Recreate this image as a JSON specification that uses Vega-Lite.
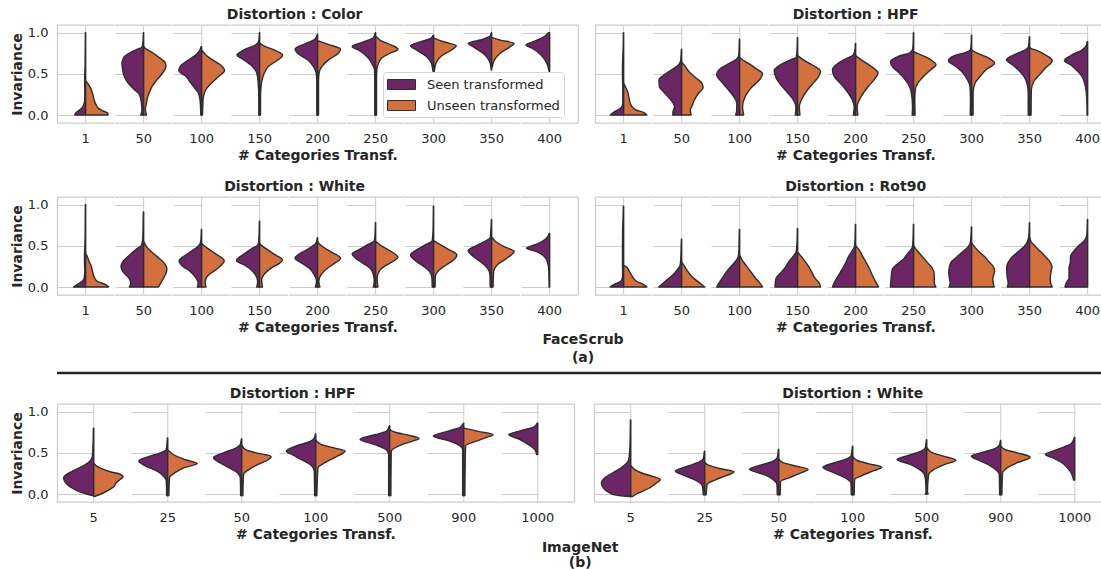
{
  "$schema": "https://vega.github.io/schema/vega-lite/v6.json",
  "padding": {"left": 10, "top": 8, "right": 5, "bottom": 5},
  "background": "white",
  "config": {
    "font": "DejaVu Sans",
    "view": {"stroke": null},
    "axis": {"labelFont": "DejaVu Sans", "labelFontSize": 13, "labelColor": "#262626", "titleFont": "DejaVu Sans", "titleFontSize": 14, "titleFontWeight": "bold", "titleColor": "#262626", "domainColor": "#cccccc", "domainWidth": 1.25, "gridColor": "#cccccc", "gridWidth": 1, "ticks": false, "labelOverlap": false},
    "header": {"labelFont": "DejaVu Sans", "labelFontSize": 13, "labelColor": "#262626", "titleFont": "DejaVu Sans", "titleFontSize": 14, "titleFontWeight": "bold", "titleColor": "#262626", "labelOrient": "bottom", "titleOrient": "bottom", "labelPadding": 10, "titlePadding": -7},
    "title": {"font": "DejaVu Sans", "fontSize": 14, "fontWeight": "bold", "color": "#262626", "offset": 2, "anchor": "middle"},
    "legend": {"orient": "none", "legendX": 326, "legendY": 47, "fillColor": "white", "strokeColor": "#d5d5d5", "cornerRadius": 3, "padding": 4, "labelFont": "DejaVu Sans", "labelFontSize": 13, "labelColor": "#262626", "symbolType": "M-1.75,-0.62L1.75,-0.62L1.75,0.62L-1.75,0.62Z", "symbolSize": 256, "symbolOffset": 6, "symbolStrokeColor": "#2d2d2d", "symbolStrokeWidth": 1, "symbolOpacity": 1, "rowPadding": 5, "labelOffset": 17}
  },
  "datasets": {
    "v": [
      {"p":"Color","cat":1,"g":"Seen transformed","y":[0,0.03,0.07,0.12,0.2,0.3,0.45,0.6,0.8,1.0],"w":[0.38,0.33,0.18,0.07,0.03,0.03,0.035,0.02,0.015,0.01]},
      {"p":"Color","cat":1,"g":"Unseen transformed","y":[0,0.02,0.05,0.08,0.12,0.18,0.25,0.32,0.38,0.41],"w":[0.78,0.78,0.6,0.45,0.37,0.3,0.25,0.18,0.08,0.01]},
      {"p":"Color","cat":50,"g":"Seen transformed","y":[0,0.06,0.15,0.25,0.31,0.37,0.43,0.49,0.55,0.63,0.71,0.76,0.79,0.83,0.91,1.0],"w":[0.1,0.06,0.08,0.15,0.33,0.5,0.62,0.7,0.73,0.76,0.67,0.45,0.27,0.05,0.02,0.01]},
      {"p":"Color","cat":50,"g":"Unseen transformed","y":[0,0.06,0.15,0.23,0.29,0.35,0.43,0.51,0.59,0.63,0.71,0.77,0.81,0.83],"w":[0.1,0.06,0.1,0.15,0.22,0.3,0.47,0.66,0.78,0.76,0.5,0.25,0.05,0.01]},
      {"p":"Color","cat":100,"g":"Seen transformed","y":[0,0.1,0.19,0.27,0.31,0.39,0.47,0.54,0.61,0.67,0.73,0.79,0.83],"w":[0.03,0.04,0.06,0.12,0.2,0.38,0.55,0.8,0.7,0.45,0.2,0.06,0.02]},
      {"p":"Color","cat":100,"g":"Unseen transformed","y":[0,0.1,0.19,0.27,0.31,0.39,0.47,0.54,0.61,0.67,0.73,0.78],"w":[0.03,0.04,0.05,0.1,0.15,0.35,0.6,0.8,0.65,0.38,0.15,0.02]},
      {"p":"Color","cat":150,"g":"Seen transformed","y":[0,0.2,0.39,0.51,0.59,0.67,0.73,0.79,0.85,0.89,0.95,1.0],"w":[0.03,0.03,0.05,0.1,0.25,0.55,0.79,0.55,0.15,0.04,0.015,0.01]},
      {"p":"Color","cat":150,"g":"Unseen transformed","y":[0,0.2,0.35,0.47,0.59,0.67,0.73,0.79,0.84,0.87],"w":[0.03,0.03,0.05,0.12,0.3,0.65,0.8,0.5,0.15,0.02]},
      {"p":"Color","cat":200,"g":"Seen transformed","y":[0,0.2,0.4,0.51,0.59,0.67,0.75,0.8,0.87,0.92,0.98],"w":[0.03,0.03,0.03,0.05,0.15,0.35,0.7,0.79,0.4,0.1,0.01]},
      {"p":"Color","cat":200,"g":"Unseen transformed","y":[0,0.2,0.4,0.51,0.59,0.67,0.75,0.8,0.86,0.9],"w":[0.03,0.03,0.03,0.05,0.15,0.38,0.72,0.8,0.35,0.02]},
      {"p":"Color","cat":250,"g":"Seen transformed","y":[0,0.2,0.4,0.55,0.59,0.69,0.79,0.83,0.89,0.94,1.0],"w":[0.03,0.03,0.03,0.04,0.08,0.25,0.6,0.82,0.4,0.08,0.01]},
      {"p":"Color","cat":250,"g":"Unseen transformed","y":[0,0.2,0.4,0.55,0.59,0.69,0.75,0.8,0.85,0.9,0.95],"w":[0.03,0.03,0.03,0.04,0.06,0.2,0.5,0.78,0.55,0.2,0.02]},
      {"p":"Color","cat":300,"g":"Seen transformed","y":[0.53,0.55,0.63,0.71,0.79,0.84,0.89,0.93,0.97],"w":[0.02,0.03,0.08,0.25,0.6,0.81,0.45,0.1,0.02]},
      {"p":"Color","cat":300,"g":"Unseen transformed","y":[0.53,0.55,0.63,0.71,0.79,0.84,0.89,0.93],"w":[0.02,0.03,0.08,0.25,0.62,0.79,0.35,0.02]},
      {"p":"Color","cat":350,"g":"Seen transformed","y":[0.55,0.57,0.67,0.75,0.83,0.87,0.92,0.96,1.0],"w":[0.02,0.02,0.1,0.3,0.65,0.82,0.3,0.05,0.01]},
      {"p":"Color","cat":350,"g":"Unseen transformed","y":[0.58,0.67,0.75,0.83,0.87,0.91,0.94],"w":[0.02,0.1,0.3,0.65,0.79,0.3,0.02]},
      {"p":"Color","cat":400,"g":"Seen transformed","y":[0.53,0.63,0.73,0.81,0.85,0.9,0.95,1.0],"w":[0.02,0.1,0.3,0.6,0.83,0.5,0.2,0.04]},

      {"p":"HPF","cat":1,"g":"Seen transformed","y":[0,0.044,0.085,0.14,0.3,0.5,0.6,0.7,0.85,1.0],"w":[0.47,0.3,0.1,0.03,0.03,0.04,0.04,0.03,0.015,0.01]},
      {"p":"HPF","cat":1,"g":"Unseen transformed","y":[0,0.03,0.065,0.125,0.185,0.27,0.33,0.38],"w":[0.81,0.7,0.4,0.25,0.2,0.15,0.08,0.01]},
      {"p":"HPF","cat":50,"g":"Seen transformed","y":[0,0.044,0.1,0.185,0.27,0.35,0.43,0.49,0.55,0.61,0.67,0.73,0.8],"w":[0.31,0.3,0.25,0.38,0.6,0.78,0.79,0.6,0.35,0.1,0.03,0.02,0.01]},
      {"p":"HPF","cat":50,"g":"Unseen transformed","y":[0,0.065,0.1,0.185,0.27,0.33,0.39,0.45,0.53,0.61,0.64],"w":[0.33,0.3,0.35,0.45,0.6,0.75,0.7,0.5,0.25,0.08,0.01]},
      {"p":"HPF","cat":100,"g":"Seen transformed","y":[0,0.065,0.145,0.23,0.31,0.39,0.49,0.57,0.63,0.68,0.73,0.8,0.92],"w":[0.14,0.1,0.1,0.22,0.4,0.6,0.8,0.65,0.35,0.1,0.03,0.02,0.01]},
      {"p":"HPF","cat":100,"g":"Unseen transformed","y":[0,0.1,0.23,0.33,0.43,0.5,0.57,0.63,0.68,0.7],"w":[0.14,0.1,0.2,0.4,0.7,0.8,0.55,0.3,0.06,0.01]},
      {"p":"HPF","cat":150,"g":"Seen transformed","y":[0,0.1,0.185,0.27,0.35,0.45,0.54,0.61,0.67,0.7,0.8,0.94],"w":[0.08,0.06,0.15,0.35,0.55,0.75,0.82,0.6,0.25,0.05,0.02,0.01]},
      {"p":"HPF","cat":150,"g":"Unseen transformed","y":[0,0.1,0.23,0.35,0.45,0.53,0.61,0.67,0.71,0.72],"w":[0.08,0.06,0.2,0.45,0.7,0.8,0.5,0.2,0.04,0.01]},
      {"p":"HPF","cat":200,"g":"Seen transformed","y":[0,0.1,0.185,0.31,0.39,0.47,0.55,0.63,0.69,0.73,0.8,0.87],"w":[0.08,0.05,0.12,0.35,0.55,0.75,0.81,0.6,0.3,0.08,0.02,0.01]},
      {"p":"HPF","cat":200,"g":"Unseen transformed","y":[0,0.1,0.23,0.35,0.43,0.51,0.59,0.67,0.71,0.72],"w":[0.08,0.05,0.2,0.45,0.65,0.78,0.55,0.2,0.04,0.01]},
      {"p":"HPF","cat":250,"g":"Seen transformed","y":[0,0.1,0.27,0.35,0.43,0.51,0.59,0.65,0.71,0.76,0.81,0.9,1.0],"w":[0.05,0.04,0.08,0.15,0.3,0.5,0.75,0.81,0.55,0.12,0.03,0.015,0.01]},
      {"p":"HPF","cat":250,"g":"Unseen transformed","y":[0,0.19,0.31,0.39,0.47,0.55,0.61,0.67,0.73,0.76,0.77],"w":[0.05,0.04,0.06,0.15,0.35,0.6,0.78,0.6,0.25,0.05,0.01]},
      {"p":"HPF","cat":300,"g":"Seen transformed","y":[0,0.19,0.35,0.43,0.51,0.59,0.66,0.72,0.76,0.79,0.88,0.97],"w":[0.05,0.04,0.06,0.15,0.3,0.55,0.81,0.6,0.2,0.04,0.015,0.01]},
      {"p":"HPF","cat":300,"g":"Unseen transformed","y":[0,0.27,0.39,0.47,0.55,0.63,0.69,0.75,0.78,0.79],"w":[0.05,0.05,0.12,0.3,0.5,0.8,0.6,0.2,0.04,0.01]},
      {"p":"HPF","cat":350,"g":"Seen transformed","y":[0,0.27,0.39,0.47,0.55,0.61,0.67,0.73,0.79,0.83,0.95],"w":[0.05,0.05,0.1,0.2,0.4,0.6,0.81,0.55,0.15,0.04,0.01]},
      {"p":"HPF","cat":350,"g":"Unseen transformed","y":[0,0.31,0.41,0.49,0.57,0.66,0.72,0.79,0.81,0.82],"w":[0.05,0.06,0.15,0.35,0.55,0.79,0.6,0.2,0.04,0.01]},
      {"p":"HPF","cat":400,"g":"Seen transformed","y":[0,0.19,0.35,0.47,0.55,0.61,0.66,0.72,0.79,0.85,0.89],"w":[0.02,0.03,0.08,0.2,0.4,0.6,0.81,0.6,0.2,0.04,0.02]},

      {"p":"White","cat":1,"g":"Seen transformed","y":[0,0.03,0.07,0.11,0.2,0.3,0.4,0.47,0.6,0.8,1.0],"w":[0.42,0.3,0.12,0.05,0.03,0.04,0.04,0.03,0.02,0.015,0.01]},
      {"p":"White","cat":1,"g":"Unseen transformed","y":[0,0.03,0.07,0.12,0.19,0.25,0.31,0.375,0.4],"w":[0.8,0.7,0.4,0.3,0.24,0.2,0.12,0.05,0.01]},
      {"p":"White","cat":50,"g":"Seen transformed","y":[0,0.05,0.11,0.19,0.25,0.31,0.4,0.46,0.51,0.6,0.75,0.91],"w":[0.5,0.45,0.52,0.73,0.79,0.72,0.45,0.25,0.07,0.03,0.02,0.01]},
      {"p":"White","cat":50,"g":"Unseen transformed","y":[0,0.05,0.11,0.19,0.23,0.29,0.375,0.435,0.5,0.55],"w":[0.52,0.6,0.7,0.8,0.81,0.72,0.45,0.25,0.08,0.01]},
      {"p":"White","cat":100,"g":"Seen transformed","y":[0,0.05,0.11,0.19,0.25,0.32,0.4,0.46,0.51,0.56,0.7],"w":[0.15,0.12,0.2,0.4,0.65,0.79,0.5,0.25,0.08,0.03,0.01]},
      {"p":"White","cat":100,"g":"Unseen transformed","y":[0,0.07,0.15,0.21,0.27,0.32,0.4,0.46,0.51,0.53],"w":[0.15,0.12,0.25,0.5,0.7,0.79,0.5,0.25,0.06,0.01]},
      {"p":"White","cat":150,"g":"Seen transformed","y":[0,0.07,0.15,0.21,0.27,0.32,0.4,0.46,0.51,0.56,0.8],"w":[0.1,0.07,0.15,0.3,0.55,0.81,0.55,0.3,0.07,0.03,0.01]},
      {"p":"White","cat":150,"g":"Unseen transformed","y":[0,0.09,0.17,0.23,0.29,0.33,0.4,0.46,0.51,0.53],"w":[0.1,0.07,0.2,0.4,0.7,0.8,0.5,0.25,0.05,0.01]},
      {"p":"White","cat":200,"g":"Seen transformed","y":[0,0.07,0.15,0.23,0.29,0.35,0.42,0.48,0.54,0.6],"w":[0.08,0.04,0.12,0.3,0.55,0.79,0.55,0.25,0.05,0.01]},
      {"p":"White","cat":200,"g":"Unseen transformed","y":[0,0.07,0.15,0.23,0.29,0.35,0.42,0.48,0.53,0.55],"w":[0.08,0.04,0.12,0.35,0.6,0.8,0.5,0.22,0.04,0.01]},
      {"p":"White","cat":250,"g":"Seen transformed","y":[0,0.07,0.15,0.23,0.29,0.35,0.4,0.46,0.52,0.56,0.65,0.78],"w":[0.08,0.05,0.08,0.2,0.45,0.7,0.82,0.55,0.25,0.05,0.02,0.01]},
      {"p":"White","cat":250,"g":"Unseen transformed","y":[0,0.11,0.19,0.25,0.31,0.36,0.44,0.5,0.55],"w":[0.08,0.05,0.12,0.3,0.6,0.78,0.5,0.2,0.02]},
      {"p":"White","cat":300,"g":"Seen transformed","y":[0,0.11,0.19,0.25,0.31,0.39,0.46,0.52,0.56,0.7,0.98],"w":[0.05,0.06,0.15,0.35,0.6,0.81,0.55,0.25,0.05,0.02,0.01]},
      {"p":"White","cat":300,"g":"Unseen transformed","y":[0,0.13,0.21,0.27,0.33,0.39,0.46,0.52,0.56],"w":[0.05,0.06,0.2,0.45,0.7,0.81,0.5,0.2,0.02]},
      {"p":"White","cat":350,"g":"Seen transformed","y":[0,0.15,0.23,0.31,0.375,0.44,0.5,0.56,0.6,0.82],"w":[0.05,0.06,0.15,0.4,0.65,0.82,0.55,0.2,0.05,0.01]},
      {"p":"White","cat":350,"g":"Unseen transformed","y":[0,0.19,0.27,0.33,0.395,0.43,0.48,0.55,0.6],"w":[0.05,0.07,0.2,0.45,0.7,0.79,0.5,0.15,0.02]},
      {"p":"White","cat":400,"g":"Seen transformed","y":[0,0.2,0.31,0.375,0.435,0.47,0.52,0.58,0.62,0.65],"w":[0.02,0.03,0.08,0.2,0.5,0.81,0.45,0.15,0.05,0.02]},

      {"p":"Rot90","cat":1,"g":"Seen transformed","y":[0,0.03,0.06,0.09,0.15,0.3,0.5,0.7,0.85,0.98],"w":[0.47,0.35,0.15,0.06,0.035,0.04,0.04,0.035,0.02,0.01]},
      {"p":"Rot90","cat":1,"g":"Unseen transformed","y":[0,0.03,0.07,0.13,0.19,0.25,0.26],"w":[0.81,0.7,0.45,0.3,0.2,0.07,0.01]},
      {"p":"Rot90","cat":50,"g":"Seen transformed","y":[0,0.03,0.09,0.15,0.21,0.27,0.35,0.45,0.58],"w":[0.8,0.7,0.5,0.3,0.15,0.05,0.03,0.02,0.01]},
      {"p":"Rot90","cat":50,"g":"Unseen transformed","y":[0,0.03,0.09,0.15,0.21,0.27,0.3],"w":[0.81,0.7,0.48,0.3,0.17,0.07,0.01]},
      {"p":"Rot90","cat":100,"g":"Seen transformed","y":[0,0.05,0.11,0.19,0.25,0.31,0.37,0.45,0.55,0.7],"w":[0.8,0.72,0.6,0.45,0.3,0.15,0.05,0.025,0.02,0.01]},
      {"p":"Rot90","cat":100,"g":"Unseen transformed","y":[0,0.05,0.11,0.19,0.25,0.31,0.36,0.38],"w":[0.8,0.7,0.55,0.38,0.25,0.12,0.04,0.01]},
      {"p":"Rot90","cat":150,"g":"Seen transformed","y":[0,0.05,0.11,0.17,0.23,0.31,0.39,0.43,0.55,0.71],"w":[0.79,0.78,0.75,0.6,0.45,0.3,0.12,0.05,0.02,0.01]},
      {"p":"Rot90","cat":150,"g":"Unseen transformed","y":[0,0.05,0.11,0.19,0.25,0.33,0.39,0.42],"w":[0.8,0.75,0.6,0.48,0.38,0.22,0.08,0.01]},
      {"p":"Rot90","cat":200,"g":"Seen transformed","y":[0,0.05,0.13,0.21,0.29,0.37,0.45,0.49,0.6,0.76],"w":[0.81,0.75,0.62,0.48,0.35,0.25,0.1,0.04,0.02,0.01]},
      {"p":"Rot90","cat":200,"g":"Unseen transformed","y":[0,0.05,0.13,0.21,0.29,0.37,0.45,0.5],"w":[0.8,0.72,0.6,0.5,0.38,0.25,0.12,0.01]},
      {"p":"Rot90","cat":250,"g":"Seen transformed","y":[0,0.05,0.13,0.21,0.27,0.33,0.39,0.45,0.49,0.6,0.76],"w":[0.81,0.8,0.78,0.75,0.6,0.38,0.25,0.1,0.04,0.02,0.01]},
      {"p":"Rot90","cat":250,"g":"Unseen transformed","y":[0,0.05,0.15,0.23,0.29,0.35,0.41,0.46,0.5],"w":[0.78,0.72,0.72,0.65,0.5,0.35,0.2,0.08,0.01]},
      {"p":"Rot90","cat":300,"g":"Seen transformed","y":[0,0.05,0.11,0.19,0.25,0.31,0.37,0.43,0.49,0.55,0.73],"w":[0.79,0.75,0.78,0.8,0.77,0.7,0.5,0.3,0.12,0.04,0.01]},
      {"p":"Rot90","cat":300,"g":"Unseen transformed","y":[0,0.05,0.11,0.19,0.25,0.31,0.37,0.43,0.49,0.53],"w":[0.79,0.75,0.74,0.8,0.75,0.6,0.45,0.25,0.1,0.01]},
      {"p":"Rot90","cat":350,"g":"Seen transformed","y":[0,0.05,0.11,0.19,0.25,0.31,0.37,0.43,0.49,0.55,0.62,0.78],"w":[0.78,0.75,0.78,0.8,0.8,0.73,0.6,0.4,0.2,0.08,0.03,0.01]},
      {"p":"Rot90","cat":350,"g":"Unseen transformed","y":[0,0.05,0.11,0.19,0.25,0.31,0.37,0.43,0.51,0.55,0.6],"w":[0.79,0.73,0.72,0.75,0.78,0.7,0.55,0.38,0.15,0.05,0.01]},
      {"p":"Rot90","cat":400,"g":"Seen transformed","y":[0,0.05,0.11,0.17,0.23,0.31,0.37,0.43,0.49,0.57,0.63,0.82],"w":[0.79,0.75,0.65,0.65,0.65,0.6,0.6,0.5,0.35,0.1,0.03,0.01]},

      {"p":"INHPF","cat":5,"g":"Seen transformed","y":[-0.02,0,0.03,0.07,0.12,0.16,0.2,0.25,0.3,0.35,0.4,0.45,0.6,0.8],"w":[0.02,0.2,0.4,0.58,0.73,0.8,0.82,0.7,0.48,0.25,0.1,0.04,0.02,0.01]},
      {"p":"INHPF","cat":5,"g":"Unseen transformed","y":[-0.03,0,0.04,0.09,0.13,0.17,0.21,0.24,0.27,0.31,0.35,0.37],"w":[0.02,0.2,0.38,0.55,0.6,0.7,0.8,0.72,0.45,0.2,0.05,0.01]},
      {"p":"INHPF","cat":25,"g":"Seen transformed","y":[-0.02,0.16,0.22,0.28,0.34,0.4,0.45,0.5,0.54,0.68],"w":[0.03,0.04,0.12,0.3,0.6,0.79,0.55,0.2,0.04,0.01]},
      {"p":"INHPF","cat":25,"g":"Unseen transformed","y":[-0.02,0.2,0.26,0.32,0.37,0.42,0.48,0.53],"w":[0.03,0.05,0.2,0.45,0.8,0.45,0.15,0.01]},
      {"p":"INHPF","cat":50,"g":"Seen transformed","y":[-0.02,0.2,0.26,0.32,0.38,0.44,0.5,0.56,0.6,0.67],"w":[0.03,0.04,0.12,0.35,0.6,0.77,0.5,0.15,0.04,0.01]},
      {"p":"INHPF","cat":50,"g":"Unseen transformed","y":[-0.02,0.24,0.3,0.36,0.41,0.455,0.5,0.54,0.59],"w":[0.03,0.05,0.2,0.45,0.7,0.8,0.4,0.1,0.01]},
      {"p":"INHPF","cat":100,"g":"Seen transformed","y":[-0.02,0.28,0.36,0.42,0.48,0.52,0.58,0.64,0.68,0.73],"w":[0.03,0.04,0.15,0.4,0.65,0.8,0.55,0.15,0.04,0.01]},
      {"p":"INHPF","cat":100,"g":"Unseen transformed","y":[-0.02,0.32,0.38,0.44,0.5,0.52,0.56,0.6,0.65],"w":[0.03,0.06,0.25,0.5,0.75,0.8,0.5,0.15,0.01]},
      {"p":"INHPF","cat":500,"g":"Seen transformed","y":[-0.02,0.48,0.54,0.6,0.665,0.72,0.76,0.8,0.83],"w":[0.03,0.03,0.1,0.4,0.81,0.4,0.1,0.03,0.01]},
      {"p":"INHPF","cat":500,"g":"Unseen transformed","y":[-0.02,0.52,0.585,0.64,0.675,0.715,0.75,0.78],"w":[0.03,0.04,0.25,0.6,0.8,0.5,0.15,0.01]},
      {"p":"INHPF","cat":900,"g":"Seen transformed","y":[-0.02,0.54,0.585,0.645,0.705,0.766,0.81,0.86],"w":[0.03,0.03,0.1,0.4,0.83,0.4,0.1,0.01]},
      {"p":"INHPF","cat":900,"g":"Unseen transformed","y":[-0.02,0.585,0.635,0.685,0.72,0.76,0.8],"w":[0.03,0.05,0.3,0.6,0.8,0.4,0.01]},
      {"p":"INHPF","cat":1000,"g":"Seen transformed","y":[0.48,0.54,0.6,0.665,0.72,0.77,0.815,0.86],"w":[0.03,0.08,0.25,0.5,0.79,0.45,0.1,0.02]},

      {"p":"INWhite","cat":5,"g":"Seen transformed","y":[-0.03,-0.01,0.02,0.06,0.13,0.2,0.28,0.34,0.4,0.46,0.6,0.9],"w":[0.05,0.45,0.6,0.72,0.8,0.7,0.4,0.2,0.07,0.04,0.02,0.01]},
      {"p":"INWhite","cat":5,"g":"Unseen transformed","y":[-0.03,0.01,0.07,0.135,0.175,0.215,0.255,0.3,0.34],"w":[0.05,0.2,0.5,0.7,0.81,0.6,0.3,0.1,0.01]},
      {"p":"INWhite","cat":25,"g":"Seen transformed","y":[-0.01,0.09,0.155,0.215,0.28,0.34,0.39,0.43,0.52],"w":[0.04,0.06,0.2,0.5,0.8,0.45,0.15,0.04,0.01]},
      {"p":"INWhite","cat":25,"g":"Unseen transformed","y":[-0.01,0.115,0.175,0.225,0.27,0.31,0.35,0.38],"w":[0.04,0.06,0.3,0.6,0.8,0.4,0.1,0.01]},
      {"p":"INWhite","cat":50,"g":"Seen transformed","y":[-0.01,0.115,0.175,0.235,0.3,0.35,0.4,0.44,0.54],"w":[0.04,0.05,0.15,0.4,0.8,0.5,0.15,0.04,0.01]},
      {"p":"INWhite","cat":50,"g":"Unseen transformed","y":[-0.01,0.155,0.2,0.256,0.3,0.34,0.38,0.42],"w":[0.04,0.05,0.3,0.6,0.8,0.45,0.12,0.01]},
      {"p":"INWhite","cat":100,"g":"Seen transformed","y":[-0.01,0.135,0.195,0.256,0.325,0.38,0.43,0.47,0.58],"w":[0.04,0.05,0.2,0.5,0.81,0.5,0.15,0.04,0.01]},
      {"p":"INWhite","cat":100,"g":"Unseen transformed","y":[-0.01,0.175,0.224,0.28,0.325,0.366,0.407,0.45],"w":[0.04,0.05,0.25,0.55,0.79,0.45,0.12,0.01]},
      {"p":"INWhite","cat":500,"g":"Seen transformed","y":[0,0.02,0.155,0.235,0.3,0.36,0.42,0.47,0.52,0.56,0.66],"w":[0.04,0.02,0.03,0.06,0.2,0.45,0.81,0.5,0.15,0.04,0.01]},
      {"p":"INWhite","cat":500,"g":"Unseen transformed","y":[0,0.02,0.235,0.3,0.36,0.41,0.46,0.51,0.56],"w":[0.04,0.02,0.05,0.2,0.5,0.79,0.45,0.12,0.01]},
      {"p":"INWhite","cat":900,"g":"Seen transformed","y":[-0.01,0.235,0.3,0.36,0.42,0.46,0.51,0.56,0.6,0.65],"w":[0.03,0.04,0.15,0.35,0.65,0.8,0.45,0.12,0.03,0.01]},
      {"p":"INWhite","cat":900,"g":"Unseen transformed","y":[-0.01,0.256,0.31,0.38,0.447,0.5,0.54,0.58],"w":[0.03,0.05,0.15,0.45,0.8,0.45,0.12,0.01]},
      {"p":"INWhite","cat":1000,"g":"Seen transformed","y":[0.17,0.26,0.32,0.38,0.43,0.48,0.52,0.57,0.61,0.66,0.69],"w":[0.03,0.1,0.2,0.35,0.55,0.8,0.6,0.3,0.1,0.03,0.01]}
    ],
    "sep": [{"from": 0, "to": 1}]
  },
  "data": {"name": "v"},
  "spacing": -2,
  "vconcat": [
    {
      "spacing": 17,
      "vconcat": [
        {
          "spacing": 15,
          "hconcat": [
            {
              "title": {"text": "Distortion :  Color"},
              "transform": [{"filter": "datum.p === 'Color'"}],
              "facet": {"column": {"field": "cat", "type": "ordinal", "title": "# Categories Transf."}},
              "spacing": 0, "bounds": "flush",
              "spec": {
                "width": 57.3, "height": 98,
                "layer": [
                  {"transform": [{"filter": "datum.g === 'Seen transformed'"}], "mark": {"type": "rule", "color": "#cccccc", "strokeWidth": 1}, "encoding": {"x": {"datum": 0.5, "type": "quantitative", "scale": {"domain": [0, 1], "range": [0, 57.3], "nice": false, "zero": false}, "axis": null}}},
                  {"transform": [{"filter": "datum.g === 'Seen transformed' && datum.cat === 400"}], "mark": {"type": "rule", "color": "#cccccc", "strokeWidth": 1.25}, "encoding": {"x": {"datum": 1, "type": "quantitative", "scale": {"domain": [0, 1], "range": [0, 57.3], "nice": false, "zero": false}, "axis": null}}},
                  {"transform": [{"filter": "datum.g === 'Seen transformed'"}, {"flatten": ["y", "w"]}], "mark": {"type": "area", "orient": "horizontal", "interpolate": "monotone", "stroke": "#2d2d2d", "strokeWidth": 1.4, "strokeJoin": "round", "fillOpacity": 1},
                   "encoding": {"y": {"field": "y", "type": "quantitative", "scale": {"domain": [-0.097, 1.093], "nice": false, "zero": false}, "axis": {"values": [0, 0.5, 1], "format": ".1f", "title": "Invariance", "grid": true, "labelPadding": 9, "titlePadding": 3}},
                     "x": {"field": "w", "type": "quantitative", "scale": {"domain": [0, 1], "range": [28.65, 0], "nice": false}, "axis": null},
                     "fill": {"field": "g", "type": "nominal", "scale": {"domain": ["Seen transformed", "Unseen transformed"], "range": ["#6c2666", "#d4703e"]}, "title": null}}},
                  {"transform": [{"filter": "datum.g === 'Unseen transformed'"}, {"flatten": ["y", "w"]}], "mark": {"type": "area", "orient": "horizontal", "interpolate": "monotone", "stroke": "#2d2d2d", "strokeWidth": 1.4, "strokeJoin": "round", "fillOpacity": 1},
                   "encoding": {"y": {"field": "y", "type": "quantitative"},
                     "x": {"field": "w", "type": "quantitative", "scale": {"domain": [0, 1], "range": [28.65, 57.3], "nice": false}, "axis": null},
                     "fill": {"field": "g", "type": "nominal", "title": null}}},
                  {"transform": [{"filter": "datum.g === 'Seen transformed'"}], "mark": {"type": "rule", "color": "#cccccc", "strokeWidth": 1.25}, "encoding": {"y": {"datum": 1.093, "type": "quantitative"}}},
                  {"transform": [{"filter": "datum.g === 'Seen transformed'"}], "mark": {"type": "rule", "color": "#cccccc", "strokeWidth": 1.25}, "encoding": {"y": {"datum": -0.097, "type": "quantitative"}}}
                ],
                "resolve": {"scale": {"x": "independent"}}
              }
            },
            {
              "title": {"text": "Distortion :  HPF"},
              "transform": [{"filter": "datum.p === 'HPF'"}],
              "facet": {"column": {"field": "cat", "type": "ordinal", "title": "# Categories Transf."}},
              "spacing": 0, "bounds": "flush",
              "spec": {
                "width": 57.3, "height": 98,
                "layer": [
                  {"transform": [{"filter": "datum.g === 'Seen transformed'"}], "mark": {"type": "rule", "color": "#cccccc", "strokeWidth": 1}, "encoding": {"x": {"datum": 0.5, "type": "quantitative", "scale": {"domain": [0, 1], "range": [0, 57.3], "nice": false, "zero": false}, "axis": null}}},
                  {"transform": [{"filter": "datum.g === 'Seen transformed'"}, {"flatten": ["y", "w"]}], "mark": {"type": "area", "orient": "horizontal", "interpolate": "monotone", "stroke": "#2d2d2d", "strokeWidth": 1.4, "strokeJoin": "round", "fillOpacity": 1},
                   "encoding": {"y": {"field": "y", "type": "quantitative", "scale": {"domain": [-0.097, 1.093], "nice": false, "zero": false}, "axis": {"values": [0, 0.5, 1], "labels": false, "title": null, "grid": true}},
                     "x": {"field": "w", "type": "quantitative", "scale": {"domain": [0, 1], "range": [28.65, 0], "nice": false}, "axis": null},
                     "fill": {"field": "g", "type": "nominal", "scale": {"domain": ["Seen transformed", "Unseen transformed"], "range": ["#6c2666", "#d4703e"]}, "title": null}}},
                  {"transform": [{"filter": "datum.g === 'Unseen transformed'"}, {"flatten": ["y", "w"]}], "mark": {"type": "area", "orient": "horizontal", "interpolate": "monotone", "stroke": "#2d2d2d", "strokeWidth": 1.4, "strokeJoin": "round", "fillOpacity": 1},
                   "encoding": {"y": {"field": "y", "type": "quantitative"},
                     "x": {"field": "w", "type": "quantitative", "scale": {"domain": [0, 1], "range": [28.65, 57.3], "nice": false}, "axis": null},
                     "fill": {"field": "g", "type": "nominal", "title": null}}},
                  {"transform": [{"filter": "datum.g === 'Seen transformed'"}], "mark": {"type": "rule", "color": "#cccccc", "strokeWidth": 1.25}, "encoding": {"y": {"datum": 1.093, "type": "quantitative"}}},
                  {"transform": [{"filter": "datum.g === 'Seen transformed'"}], "mark": {"type": "rule", "color": "#cccccc", "strokeWidth": 1.25}, "encoding": {"y": {"datum": -0.097, "type": "quantitative"}}}
                ],
                "resolve": {"scale": {"x": "independent"}}
              }
            }
          ]
        },
        {
          "spacing": 15,
          "hconcat": [
            {
              "title": {"text": "Distortion :  White"},
              "transform": [{"filter": "datum.p === 'White'"}],
              "facet": {"column": {"field": "cat", "type": "ordinal", "title": "# Categories Transf."}},
              "spacing": 0, "bounds": "flush",
              "spec": {
                "width": 57.3, "height": 98,
                "layer": [
                  {"transform": [{"filter": "datum.g === 'Seen transformed'"}], "mark": {"type": "rule", "color": "#cccccc", "strokeWidth": 1}, "encoding": {"x": {"datum": 0.5, "type": "quantitative", "scale": {"domain": [0, 1], "range": [0, 57.3], "nice": false, "zero": false}, "axis": null}}},
                  {"transform": [{"filter": "datum.g === 'Seen transformed' && datum.cat === 400"}], "mark": {"type": "rule", "color": "#cccccc", "strokeWidth": 1.25}, "encoding": {"x": {"datum": 1, "type": "quantitative", "scale": {"domain": [0, 1], "range": [0, 57.3], "nice": false, "zero": false}, "axis": null}}},
                  {"transform": [{"filter": "datum.g === 'Seen transformed'"}, {"flatten": ["y", "w"]}], "mark": {"type": "area", "orient": "horizontal", "interpolate": "monotone", "stroke": "#2d2d2d", "strokeWidth": 1.4, "strokeJoin": "round", "fillOpacity": 1},
                   "encoding": {"y": {"field": "y", "type": "quantitative", "scale": {"domain": [-0.097, 1.093], "nice": false, "zero": false}, "axis": {"values": [0, 0.5, 1], "format": ".1f", "title": "Invariance", "grid": true, "labelPadding": 9, "titlePadding": 3}},
                     "x": {"field": "w", "type": "quantitative", "scale": {"domain": [0, 1], "range": [28.65, 0], "nice": false}, "axis": null},
                     "fill": {"field": "g", "type": "nominal", "scale": {"domain": ["Seen transformed", "Unseen transformed"], "range": ["#6c2666", "#d4703e"]}, "title": null}}},
                  {"transform": [{"filter": "datum.g === 'Unseen transformed'"}, {"flatten": ["y", "w"]}], "mark": {"type": "area", "orient": "horizontal", "interpolate": "monotone", "stroke": "#2d2d2d", "strokeWidth": 1.4, "strokeJoin": "round", "fillOpacity": 1},
                   "encoding": {"y": {"field": "y", "type": "quantitative"},
                     "x": {"field": "w", "type": "quantitative", "scale": {"domain": [0, 1], "range": [28.65, 57.3], "nice": false}, "axis": null},
                     "fill": {"field": "g", "type": "nominal", "title": null}}},
                  {"transform": [{"filter": "datum.g === 'Seen transformed'"}], "mark": {"type": "rule", "color": "#cccccc", "strokeWidth": 1.25}, "encoding": {"y": {"datum": 1.093, "type": "quantitative"}}},
                  {"transform": [{"filter": "datum.g === 'Seen transformed'"}], "mark": {"type": "rule", "color": "#cccccc", "strokeWidth": 1.25}, "encoding": {"y": {"datum": -0.097, "type": "quantitative"}}}
                ],
                "resolve": {"scale": {"x": "independent"}}
              }
            },
            {
              "title": {"text": "Distortion :  Rot90"},
              "transform": [{"filter": "datum.p === 'Rot90'"}],
              "facet": {"column": {"field": "cat", "type": "ordinal", "title": "# Categories Transf."}},
              "spacing": 0, "bounds": "flush",
              "spec": {
                "width": 57.3, "height": 98,
                "layer": [
                  {"transform": [{"filter": "datum.g === 'Seen transformed'"}], "mark": {"type": "rule", "color": "#cccccc", "strokeWidth": 1}, "encoding": {"x": {"datum": 0.5, "type": "quantitative", "scale": {"domain": [0, 1], "range": [0, 57.3], "nice": false, "zero": false}, "axis": null}}},
                  {"transform": [{"filter": "datum.g === 'Seen transformed'"}, {"flatten": ["y", "w"]}], "mark": {"type": "area", "orient": "horizontal", "interpolate": "monotone", "stroke": "#2d2d2d", "strokeWidth": 1.4, "strokeJoin": "round", "fillOpacity": 1},
                   "encoding": {"y": {"field": "y", "type": "quantitative", "scale": {"domain": [-0.097, 1.093], "nice": false, "zero": false}, "axis": {"values": [0, 0.5, 1], "labels": false, "title": null, "grid": true}},
                     "x": {"field": "w", "type": "quantitative", "scale": {"domain": [0, 1], "range": [28.65, 0], "nice": false}, "axis": null},
                     "fill": {"field": "g", "type": "nominal", "scale": {"domain": ["Seen transformed", "Unseen transformed"], "range": ["#6c2666", "#d4703e"]}, "title": null}}},
                  {"transform": [{"filter": "datum.g === 'Unseen transformed'"}, {"flatten": ["y", "w"]}], "mark": {"type": "area", "orient": "horizontal", "interpolate": "monotone", "stroke": "#2d2d2d", "strokeWidth": 1.4, "strokeJoin": "round", "fillOpacity": 1},
                   "encoding": {"y": {"field": "y", "type": "quantitative"},
                     "x": {"field": "w", "type": "quantitative", "scale": {"domain": [0, 1], "range": [28.65, 57.3], "nice": false}, "axis": null},
                     "fill": {"field": "g", "type": "nominal", "title": null}}},
                  {"transform": [{"filter": "datum.g === 'Seen transformed'"}], "mark": {"type": "rule", "color": "#cccccc", "strokeWidth": 1.25}, "encoding": {"y": {"datum": 1.093, "type": "quantitative"}}},
                  {"transform": [{"filter": "datum.g === 'Seen transformed'"}], "mark": {"type": "rule", "color": "#cccccc", "strokeWidth": 1.25}, "encoding": {"y": {"datum": -0.097, "type": "quantitative"}}}
                ],
                "resolve": {"scale": {"x": "independent"}}
              }
            }
          ]
        }
      ]
    },
    {
      "spacing": 12,
      "vconcat": [
        {
          "data": {"name": "sep"},
          "width": 1052, "height": 1,
          "title": {"text": ["FaceScrub", "(a)"], "orient": "top", "anchor": "middle", "offset": 7, "lineHeight": 17.5},
          "mark": {"type": "rule", "color": "#262626", "strokeWidth": 2.7},
          "encoding": {
            "x": {"field": "from", "type": "quantitative", "scale": {"domain": [0, 1], "nice": false}, "axis": null},
            "x2": {"field": "to"},
            "y": {"datum": 0, "type": "quantitative", "scale": {"domain": [0, 1]}, "axis": null}
          }
        },
        {
          "spacing": 17,
          "title": {"text": ["ImageNet", "(b)"], "orient": "bottom", "anchor": "middle", "offset": -1, "lineHeight": 15, "dx": 19},
          "hconcat": [
            {
              "title": {"text": "Distortion :  HPF"},
              "transform": [{"filter": "datum.p === 'INHPF'"}],
              "facet": {"column": {"field": "cat", "type": "ordinal", "title": "# Categories Transf."}},
              "spacing": 0, "bounds": "flush",
              "spec": {
                "width": 73.5, "height": 98,
                "layer": [
                  {"transform": [{"filter": "datum.g === 'Seen transformed'"}], "mark": {"type": "rule", "color": "#cccccc", "strokeWidth": 1}, "encoding": {"x": {"datum": 0.5, "type": "quantitative", "scale": {"domain": [0, 1], "range": [0, 73.5], "nice": false, "zero": false}, "axis": null}}},
                  {"transform": [{"filter": "datum.g === 'Seen transformed' && datum.cat === 1000"}], "mark": {"type": "rule", "color": "#cccccc", "strokeWidth": 1.25}, "encoding": {"x": {"datum": 1, "type": "quantitative", "scale": {"domain": [0, 1], "range": [0, 73.5], "nice": false, "zero": false}, "axis": null}}},
                  {"transform": [{"filter": "datum.g === 'Seen transformed'"}, {"flatten": ["y", "w"]}], "mark": {"type": "area", "orient": "horizontal", "interpolate": "monotone", "stroke": "#2d2d2d", "strokeWidth": 1.4, "strokeJoin": "round", "fillOpacity": 1},
                   "encoding": {"y": {"field": "y", "type": "quantitative", "scale": {"domain": [-0.097, 1.093], "nice": false, "zero": false}, "axis": {"values": [0, 0.5, 1], "format": ".1f", "title": "Invariance", "grid": true, "labelPadding": 9, "titlePadding": 3}},
                     "x": {"field": "w", "type": "quantitative", "scale": {"domain": [0, 1], "range": [36.75, 0], "nice": false}, "axis": null},
                     "fill": {"field": "g", "type": "nominal", "scale": {"domain": ["Seen transformed", "Unseen transformed"], "range": ["#6c2666", "#d4703e"]}, "title": null}}},
                  {"transform": [{"filter": "datum.g === 'Unseen transformed'"}, {"flatten": ["y", "w"]}], "mark": {"type": "area", "orient": "horizontal", "interpolate": "monotone", "stroke": "#2d2d2d", "strokeWidth": 1.4, "strokeJoin": "round", "fillOpacity": 1},
                   "encoding": {"y": {"field": "y", "type": "quantitative"},
                     "x": {"field": "w", "type": "quantitative", "scale": {"domain": [0, 1], "range": [36.75, 73.5], "nice": false}, "axis": null},
                     "fill": {"field": "g", "type": "nominal", "title": null}}},
                  {"transform": [{"filter": "datum.g === 'Seen transformed'"}], "mark": {"type": "rule", "color": "#cccccc", "strokeWidth": 1.25}, "encoding": {"y": {"datum": 1.093, "type": "quantitative"}}},
                  {"transform": [{"filter": "datum.g === 'Seen transformed'"}], "mark": {"type": "rule", "color": "#cccccc", "strokeWidth": 1.25}, "encoding": {"y": {"datum": -0.097, "type": "quantitative"}}}
                ],
                "resolve": {"scale": {"x": "independent"}}
              }
            },
            {
              "title": {"text": "Distortion :  White"},
              "transform": [{"filter": "datum.p === 'INWhite'"}],
              "facet": {"column": {"field": "cat", "type": "ordinal", "title": "# Categories Transf."}},
              "spacing": 0, "bounds": "flush",
              "spec": {
                "width": 73.5, "height": 98,
                "layer": [
                  {"transform": [{"filter": "datum.g === 'Seen transformed'"}], "mark": {"type": "rule", "color": "#cccccc", "strokeWidth": 1}, "encoding": {"x": {"datum": 0.5, "type": "quantitative", "scale": {"domain": [0, 1], "range": [0, 73.5], "nice": false, "zero": false}, "axis": null}}},
                  {"transform": [{"filter": "datum.g === 'Seen transformed'"}, {"flatten": ["y", "w"]}], "mark": {"type": "area", "orient": "horizontal", "interpolate": "monotone", "stroke": "#2d2d2d", "strokeWidth": 1.4, "strokeJoin": "round", "fillOpacity": 1},
                   "encoding": {"y": {"field": "y", "type": "quantitative", "scale": {"domain": [-0.097, 1.093], "nice": false, "zero": false}, "axis": {"values": [0, 0.5, 1], "labels": false, "title": null, "grid": true}},
                     "x": {"field": "w", "type": "quantitative", "scale": {"domain": [0, 1], "range": [36.75, 0], "nice": false}, "axis": null},
                     "fill": {"field": "g", "type": "nominal", "scale": {"domain": ["Seen transformed", "Unseen transformed"], "range": ["#6c2666", "#d4703e"]}, "title": null}}},
                  {"transform": [{"filter": "datum.g === 'Unseen transformed'"}, {"flatten": ["y", "w"]}], "mark": {"type": "area", "orient": "horizontal", "interpolate": "monotone", "stroke": "#2d2d2d", "strokeWidth": 1.4, "strokeJoin": "round", "fillOpacity": 1},
                   "encoding": {"y": {"field": "y", "type": "quantitative"},
                     "x": {"field": "w", "type": "quantitative", "scale": {"domain": [0, 1], "range": [36.75, 73.5], "nice": false}, "axis": null},
                     "fill": {"field": "g", "type": "nominal", "title": null}}},
                  {"transform": [{"filter": "datum.g === 'Seen transformed'"}], "mark": {"type": "rule", "color": "#cccccc", "strokeWidth": 1.25}, "encoding": {"y": {"datum": 1.093, "type": "quantitative"}}},
                  {"transform": [{"filter": "datum.g === 'Seen transformed'"}], "mark": {"type": "rule", "color": "#cccccc", "strokeWidth": 1.25}, "encoding": {"y": {"datum": -0.097, "type": "quantitative"}}}
                ],
                "resolve": {"scale": {"x": "independent"}}
              }
            }
          ]
        }
      ]
    }
  ]
}
